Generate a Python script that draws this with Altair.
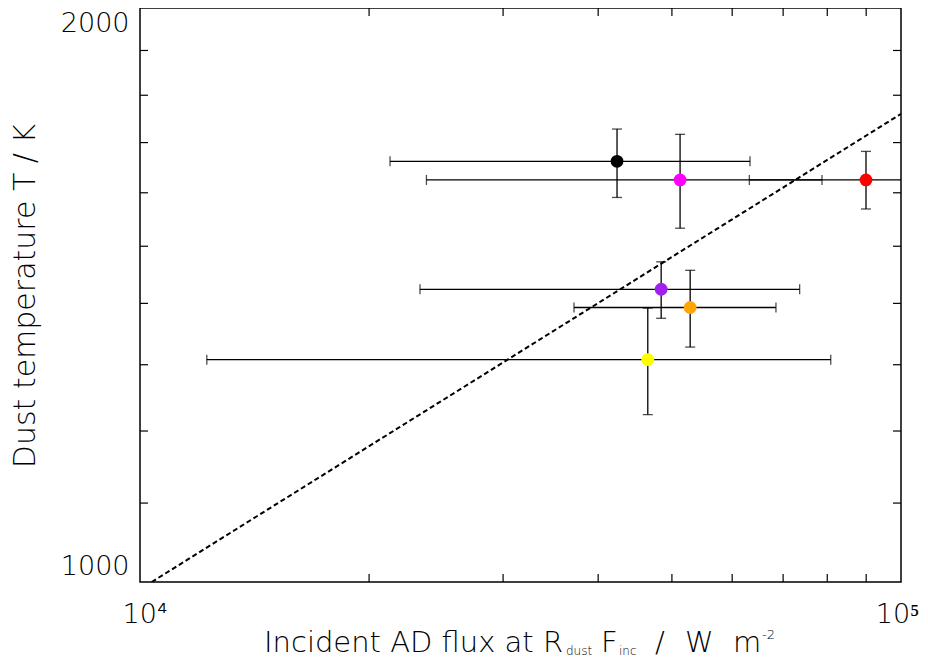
import altair as alt
import pandas as pd

# ---- data ----
names = ["black", "magenta", "red", "purple", "orange", "yellow"]
colors = ["#000000", "#FF00FF", "#FF0000", "#A020F0", "#FFA500", "#FFFF00"]
flux = [42350, 51250, 89950, 48400, 52840, 46480]
flux_lo = [21310, 23790, 63200, 23330, 37180, 12240]
flux_hi = [63330, 78740, 128000, 73590, 68500, 80850]
temp = [1662, 1625, 1625, 1424, 1393, 1308]
temp_lo = [1591, 1533, 1569, 1375, 1328, 1224]
temp_hi = [1728, 1717, 1682, 1472, 1457, 1392]

line_flux = [10360, 100000]
line_temp = [1000, 1760]

minor_x = [20000, 30000, 40000, 50000, 60000, 70000, 80000, 90000]
minor_y = [1100, 1200, 1300, 1400, 1500, 1600, 1700, 1800, 1900]

df = pd.DataFrame({"name": names, "flux": flux, "flux_lo": flux_lo, "flux_hi": flux_hi,
                   "temp": temp, "temp_lo": temp_lo, "temp_hi": temp_hi})
df_line = pd.DataFrame({"flux": line_flux, "temp": line_temp})
df_mx = pd.DataFrame({"v": minor_x})
df_my = pd.DataFrame({"v": minor_y})
dummy = pd.DataFrame({"d": [0]})

W, H = 761, 574
FONT = "DejaVu Sans"
FW = 300

xs = alt.Scale(type="log", domain=[10000, 100000], nice=False)
ys = alt.Scale(type="log", domain=[1000, 2000], nice=False)

xaxis = alt.Axis(values=[10000, 100000], labelExpr="datum.value == 10000 ? '10⁴' : '10⁵'",
                 grid=False, ticks=False, domain=False, labelFontSize=27, labelFont=FONT,
                 labelFontWeight=FW, labelColor="black", labelPadding=19, labelFlush=True,
                 labelFlushOffset=18, labelOverlap=False, title=None)
yaxis = alt.Axis(values=[1000, 2000], format="d", grid=False, ticks=False, domain=False,
                 labelFontSize=27, labelFont=FONT, labelFontWeight=FW, labelColor="black",
                 labelPadding=11, labelFlush=True, labelFlushOffset=-2, labelOverlap=False,
                 title=None)

base = alt.Chart(df)

hbars = base.mark_rule(color="black", strokeWidth=1.3, clip=True).encode(
    x=alt.X("flux_lo:Q", scale=xs, axis=xaxis), x2="flux_hi:Q", y=alt.Y("temp:Q", scale=ys, axis=yaxis))
vbars = base.mark_rule(color="black", strokeWidth=1.3, clip=True).encode(
    x=alt.X("flux:Q", scale=xs), y=alt.Y("temp_lo:Q", scale=ys), y2="temp_hi:Q")

cap_lo_x = base.mark_tick(color="black", orient="vertical", size=10, thickness=1.3, clip=True).encode(
    x=alt.X("flux_lo:Q", scale=xs), y=alt.Y("temp:Q", scale=ys))
cap_hi_x = base.mark_tick(color="black", orient="vertical", size=10, thickness=1.3, clip=True).encode(
    x=alt.X("flux_hi:Q", scale=xs), y=alt.Y("temp:Q", scale=ys))
cap_lo_y = base.mark_tick(color="black", orient="horizontal", size=10, thickness=1.3, clip=True).encode(
    x=alt.X("flux:Q", scale=xs), y=alt.Y("temp_lo:Q", scale=ys))
cap_hi_y = base.mark_tick(color="black", orient="horizontal", size=10, thickness=1.3, clip=True).encode(
    x=alt.X("flux:Q", scale=xs), y=alt.Y("temp_hi:Q", scale=ys))

pts = base.mark_circle(size=165, opacity=1).encode(
    x=alt.X("flux:Q", scale=xs), y=alt.Y("temp:Q", scale=ys),
    color=alt.Color("name:N", scale=alt.Scale(domain=names, range=colors), legend=None))

line = alt.Chart(df_line).mark_line(color="black", strokeWidth=2, strokeDash=[5, 3], clip=True).encode(
    x=alt.X("flux:Q", scale=xs), y=alt.Y("temp:Q", scale=ys))

tick_len = 8
tx_bot = alt.Chart(df_mx).mark_rule(color="black", strokeWidth=1.2).encode(
    x=alt.X("v:Q", scale=xs), y=alt.value(H), y2=alt.value(H - tick_len))
tx_top = alt.Chart(df_mx).mark_rule(color="black", strokeWidth=1.2).encode(
    x=alt.X("v:Q", scale=xs), y=alt.value(0), y2=alt.value(tick_len))
ty_left = alt.Chart(df_my).mark_rule(color="black", strokeWidth=1.2).encode(
    y=alt.Y("v:Q", scale=ys), x=alt.value(0), x2=alt.value(tick_len))
ty_right = alt.Chart(df_my).mark_rule(color="black", strokeWidth=1.2).encode(
    y=alt.Y("v:Q", scale=ys), x=alt.value(W), x2=alt.value(W - tick_len))

OX, OY = 140, 8  # page position of plot origin


def txt(s, px, py, size, align="left", baseline="alphabetic", angle=0):
    return alt.Chart(dummy).mark_text(font=FONT, fontSize=size, fontWeight=FW, align=align,
                                      baseline=baseline, angle=angle, color="black").encode(
        x=alt.value(px - OX), y=alt.value(py - OY), text=alt.value(s))


tb = 652
titles = [
    txt("Incident AD flux at R", 264, tb, 29),
    txt("dust", 566, tb + 3, 12),
    txt("F", 601, tb, 29),
    txt("inc", 619, tb + 3, 12),
    txt("/", 655, tb, 29),
    txt("W", 685, tb, 29),
    txt("m", 733, tb, 29),
    txt("-2", 762, tb - 13, 13),
    txt("Dust temperature T / K", 26, 296, 30, align="center", baseline="middle", angle=270),
]

chart = alt.layer(hbars, vbars, cap_lo_x, cap_hi_x, cap_lo_y, cap_hi_y, line, pts,
                  tx_bot, tx_top, ty_left, ty_right, *titles).properties(
    width=W, height=H,
    autosize=alt.AutoSizeParams(type="none"),
    padding={"left": OX - 8, "top": 0, "right": 19, "bottom": 78},
).configure(background="white").configure_view(stroke="black", strokeWidth=1.5)

chart.save("out.html", embed_options={"renderer": "svg", "actions": False})
